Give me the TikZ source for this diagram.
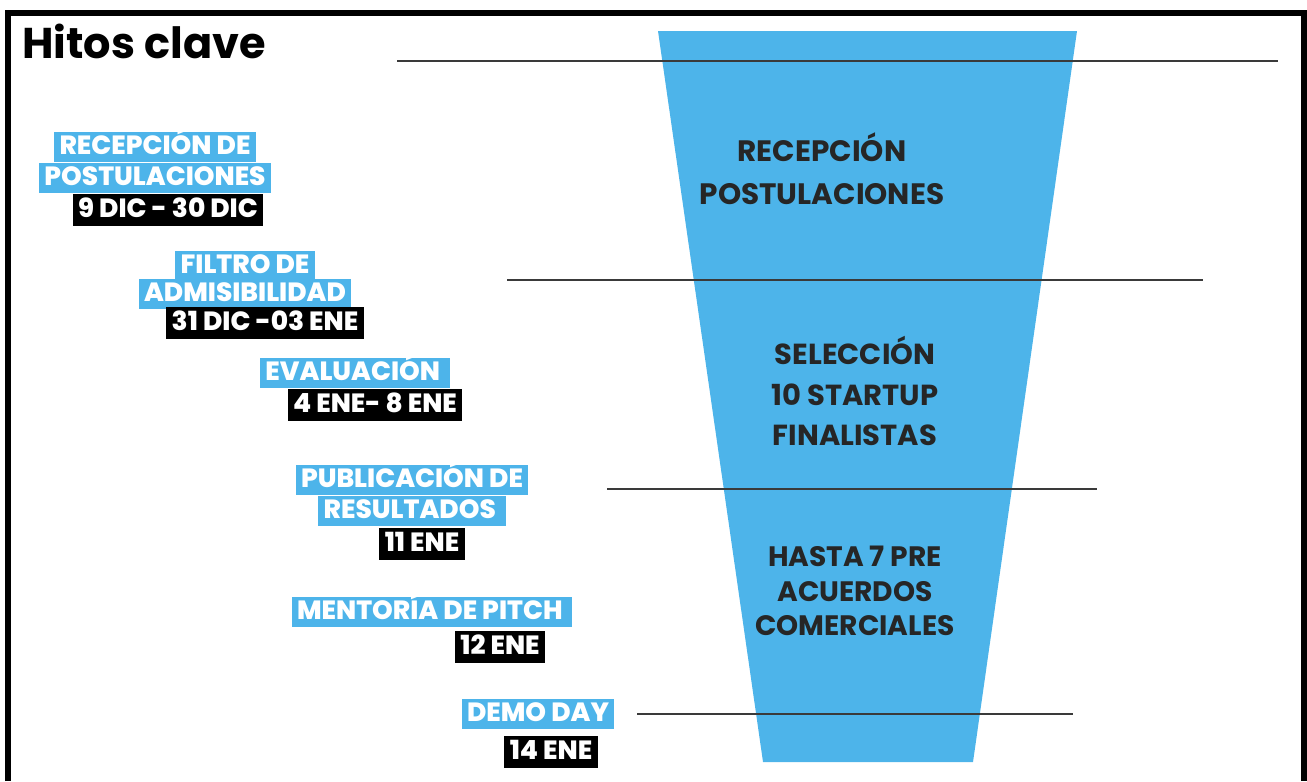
\documentclass[tikz,border=0pt]{standalone}
\usepackage{fontspec}
\setmainfont{Poppins}
\newfontfamily\gruesa{Poppins}[UprightFont={* ExtraBold}]
\definecolor{celeste}{HTML}{4DB4EA}
\definecolor{linea}{HTML}{3A3A3A}

\tikzset{%
  hito/.style={
    rectangle,
    fill=celeste,
    text=white,
    font=\gruesa\fontsize{15}{15}\selectfont,
    inner xsep=3pt,
    inner ysep=0pt,
    minimum height=0.6cm,
    text height=0.95em,
    text depth=0.1em
  },
  fecha/.style={
    hito,
    fill=black,
    minimum height=0.64cm
  },
  etapa/.style={
    align=center,
    text=black!85,
    font=\bfseries\fontsize{16.8}{24.4}\selectfont
  },
}

\begin{document}
\begin{tikzpicture}[x=0.02cm,y=-0.02cm]
\useasboundingbox (0,0) rectangle (1307,781);
\draw[line width=0.12cm] (8,781) -- (8,13) -- (1304,13) -- (1304,781);
\node[anchor=base west,font=\bfseries\fontsize{24.5}{24.5}\selectfont] (titulo) at (16,58) {Hitos clave};
\fill[celeste] (658,31) -- (1077,31) -- (973,762) -- (763,762) -- cycle;
\draw[linea,line width=0.8pt] (397,61) -- (1278,61);
\draw[linea,line width=0.8pt] (507,280) -- (1203,280);
\draw[linea,line width=0.8pt] (607,489) -- (1097,489);
\draw[linea,line width=0.8pt] (637,714) -- (1073,714);
\node[etapa] (etapa1) at (822,169) {RECEPCIÓN\\POSTULACIONES};
\node[etapa,font=\bfseries\fontsize{16.5}{23}\selectfont] (etapa2) at (855,391) {SELECCIÓN\\10 STARTUP\\FINALISTAS};
\node[etapa,font=\bfseries\fontsize{16}{19.8}\selectfont] (etapa3) at (855,591) {HASTA 7 PRE\\ACUERDOS\\COMERCIALES};
\node[hito] (rec1) at (155,147) {RECEPCIÓN DE};
\node[hito] (rec2) at (155,178) {POSTULACIONES};
\node[fecha] (recfecha) at (168,210) {9 DIC - 30 DIC};
\node[hito] (fil1) at (245,266) {FILTRO DE};
\node[hito] (fil2) at (245,294) {ADMISIBILIDAD};
\node[fecha] (filfecha) at (265,323) {31 DIC -03 ENE};
\node[hito] (eva1) at (355,373) {EVALUACIÓN\,};
\node[fecha] (evafecha) at (375,405) {4 ENE- 8 ENE};
\node[hito] (pub1) at (412,480) {PUBLICACIÓN DE};
\node[hito] (pub2) at (412,511) {RESULTADOS\,};
\node[fecha] (pubfecha) at (422,544) {11 ENE};
\node[hito] (men1) at (432,612) {MENTORÍA DE PITCH\,};
\node[fecha] (menfecha) at (500,647) {12 ENE};
\node[hito] (demo1) at (538,714) {DEMO DAY};
\node[fecha] (demofecha) at (551,752) {14 ENE};
\end{tikzpicture}
\end{document}
